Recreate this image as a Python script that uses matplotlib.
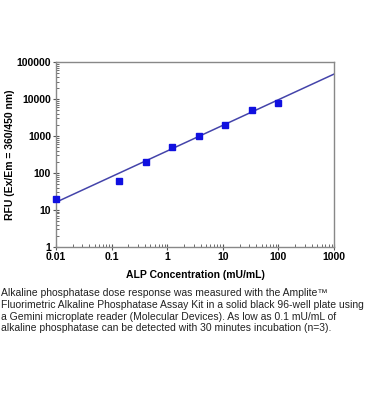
import matplotlib
matplotlib.use("Agg")
import matplotlib.pyplot as plt
import numpy as np
from matplotlib.ticker import LogLocator, NullFormatter, FixedLocator, FixedFormatter

plt.rcParams['font.family'] = ['Liberation Sans', 'DejaVu Sans']

# Data
conc = [0.01, 0.137, 0.41, 1.23, 3.7, 11.1, 33.3, 100]
rfu = [20, 60, 200, 500, 1000, 2000, 5000, 8000]
# fitted line (log-log)
fit_x = [0.01, 1000]
fit_y = [16, 48000]

xticks = [0.01, 0.1, 1, 10, 100, 1000]
xticklabels = ["0.01", "0.1", "1", "10", "100", "1000"]
yticks = [1, 10, 100, 1000, 10000, 100000]
yticklabels = ["1", "10", "100", "1000", "10000", "100000"]

fig = plt.figure(figsize=(3.7, 4.2), dpi=100)
ax = fig.add_axes([0.151, 0.4126, 0.752, 0.4391])
ax.set_xscale('log')
ax.set_yscale('log')
ax.plot(fit_x, fit_y, color='#4444aa', lw=1.1, zorder=2)
ax.plot(conc, rfu, 's', color='#1010e0', ms=4.5, zorder=3, clip_on=False)
ax.set_xlim(0.01, 1000)
ax.set_ylim(1, 100000)

ax.xaxis.set_major_locator(FixedLocator(xticks))
ax.xaxis.set_major_formatter(FixedFormatter(xticklabels))
ax.yaxis.set_major_locator(FixedLocator(yticks))
ax.yaxis.set_major_formatter(FixedFormatter(yticklabels))
ax.xaxis.set_minor_locator(LogLocator(base=10, subs=np.arange(2, 10)))
ax.yaxis.set_minor_locator(LogLocator(base=10, subs=np.arange(2, 10)))
ax.xaxis.set_minor_formatter(NullFormatter())
ax.yaxis.set_minor_formatter(NullFormatter())

for s in ax.spines.values():
    s.set_color('#888888')
    s.set_linewidth(1.0)
ax.tick_params(which='major', direction='inout', length=4, width=0.8, color='#555555',
               labelsize=7.5, pad=1.5)
ax.tick_params(which='minor', direction='in', length=2, width=0.6, color='#555555')
for lab in ax.get_xticklabels() + ax.get_yticklabels():
    lab.set_fontweight('bold')

ax.set_xlabel('ALP Concentration (mU/mL)', fontsize=7.5, fontweight='bold', labelpad=6)
ax.set_ylabel('RFU (Ex/Em = 360/450 nm)', fontsize=7.5, fontweight='bold', labelpad=1)

caption = ("Alkaline phosphatase dose response was measured with the Amplite\u2122\n"
           "Fluorimetric Alkaline Phosphatase Assay Kit in a solid black 96-well plate using\n"
           "a Gemini microplate reader (Molecular Devices). As low as 0.1 mU/mL of\n"
           "alkaline phosphatase can be detected with 30 minutes incubation (n=3).")
fig.text(0.003, (420 - 288) / 420, caption, fontsize=7.5,
         va='top', ha='left', linespacing=1.22, color='#222222')

fig.savefig('out.png', dpi=100)
